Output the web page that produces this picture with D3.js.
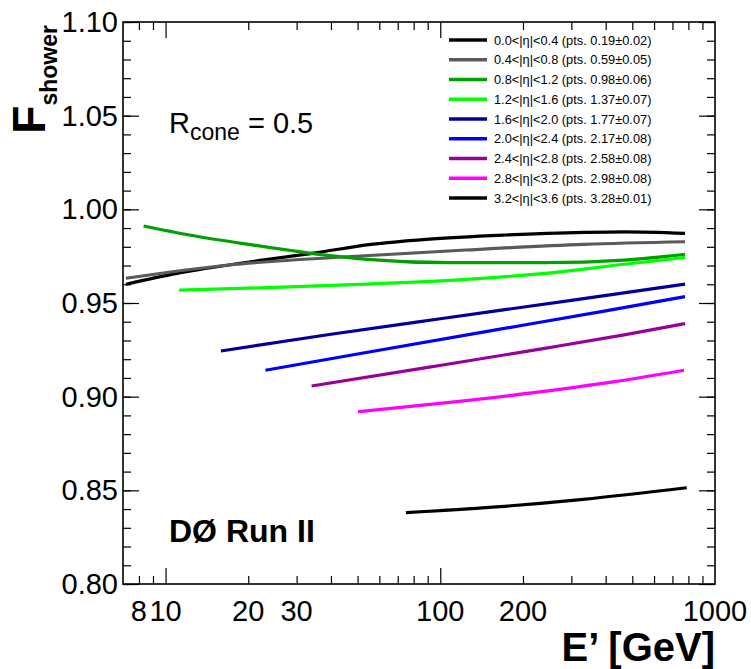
<!DOCTYPE html>
<html>
<head>
<meta charset="utf-8">
<script src="https://cdn.jsdelivr.net/npm/d3@7"></script>
<style>
  body { margin: 0; background: #fff; }
  text { font-family: "Liberation Sans", Arial, sans-serif; }
</style>
</head>
<body>
<svg width="751" height="669"></svg>
<script>
// eta bins and the legend "pts." values
const etaBins = ["0.0<|η|<0.4", "0.4<|η|<0.8", "0.8<|η|<1.2", "1.2<|η|<1.6", "1.6<|η|<2.0",
                 "2.0<|η|<2.4", "2.4<|η|<2.8", "2.8<|η|<3.2", "3.2<|η|<3.6"];
const ptsValues = ["0.19±0.02", "0.59±0.05", "0.98±0.06", "1.37±0.07", "1.77±0.07",
                   "2.17±0.08", "2.58±0.08", "2.98±0.08", "3.28±0.01"];

// curves: E' (GeV) and F_shower
const energy0 = [7.17, 11.0, 18.7, 35.1, 56, 88.8, 172, 334, 467, 778];
const fshower0 = [0.9600, 0.9658, 0.9712, 0.9768, 0.9813, 0.9840, 0.9863, 0.9877, 0.9880, 0.9872];
const energy1 = [7.17, 17, 45.8, 124, 334, 778];
const fshower1 = [0.9632, 0.9703, 0.9747, 0.9783, 0.9813, 0.9827];
const energy2 = [8.32, 12.2, 20.0, 32.9, 54.1, 108, 240, 467, 778];
const fshower2 = [0.9911, 0.9863, 0.9813, 0.9768, 0.9733, 0.9715, 0.9715, 0.9729, 0.9760];
const energy3 = [11.2, 23.6, 54.1, 124, 240, 467, 778];
const fshower3 = [0.9569, 0.9582, 0.9601, 0.9626, 0.9658, 0.9707, 0.9744];
const energy4 = [15.9, 40, 100, 300, 778];
const fshower4 = [0.9244, 0.9333, 0.9416, 0.9514, 0.9601];
const energy5 = [23.1, 50, 150, 400, 778];
const fshower5 = [0.9141, 0.9228, 0.9350, 0.9458, 0.9534];
const energy6 = [34.0, 88.9, 240, 467, 778];
const fshower6 = [0.9057, 0.9155, 0.9258, 0.9330, 0.9390];
const energy7 = [50.2, 93.6, 215, 431, 771];
const fshower7 = [0.8920, 0.8960, 0.9020, 0.9080, 0.9141];
const energy8 = [75, 165, 331, 789];
const fshower8 = [0.8381, 0.8413, 0.8452, 0.8514];

const palette = ["#000000", "#5a5a5a", "#00a000", "#00ff00", "#000099",
                 "#0000ff", "#990099", "#ff00ff", "#000000"];

// axis ticks / labels
const xLabelTicks = [8, 10, 20, 30, 100, 200, 1000];
const xMajorTicks = [10, 100];
const xMinorTicks = [8, 9, 20, 30, 40, 50, 60, 70, 80, 90, 200, 300, 400, 500, 600, 700, 800, 900];
const yMajorTicks = [0.80, 0.85, 0.90, 0.95, 1.00, 1.05, 1.10];
const yMinorTicks = d3.range(80, 111).map(d => d / 100);

const energies = [energy0, energy1, energy2, energy3, energy4, energy5, energy6, energy7, energy8];
const fshowers = [fshower0, fshower1, fshower2, fshower3, fshower4, fshower5, fshower6, fshower7, fshower8];
const series = energies.map((e, i) => e.map((v, j) => ({x: v, y: fshowers[i][j]})));

// frame
const frameL = 123, frameR = 715, frameT = 22, frameB = 584;

const svg = d3.select("svg");

const x = d3.scaleLog().domain([7, 1000]).range([frameL, frameR]);
const y = d3.scaleLinear().domain([0.80, 1.10]).range([frameB, frameT]);

// ticks on all four sides
function tickGroup(axis, tx, ty) {
  const g = svg.append("g").attr("transform", "translate(" + tx + "," + ty + ")").call(axis);
  g.select(".domain").remove();
  g.selectAll("text").remove();
  g.selectAll("line").attr("stroke", "#000").attr("stroke-width", 1.2);
}
tickGroup(d3.axisBottom(x).tickValues(xMajorTicks).tickSize(-16), 0, frameB);
tickGroup(d3.axisBottom(x).tickValues(xMinorTicks).tickSize(-8), 0, frameB);
tickGroup(d3.axisTop(x).tickValues(xMajorTicks).tickSize(-16), 0, frameT);
tickGroup(d3.axisTop(x).tickValues(xMinorTicks).tickSize(-8), 0, frameT);
tickGroup(d3.axisLeft(y).tickValues(yMajorTicks).tickSize(-16), frameL, 0);
tickGroup(d3.axisLeft(y).tickValues(yMinorTicks).tickSize(-8), frameL, 0);
tickGroup(d3.axisRight(y).tickValues(yMajorTicks).tickSize(-16), frameR, 0);
tickGroup(d3.axisRight(y).tickValues(yMinorTicks).tickSize(-8), frameR, 0);

svg.append("rect")
  .attr("x", frameL).attr("y", frameT)
  .attr("width", frameR - frameL).attr("height", frameB - frameT)
  .attr("fill", "none").attr("stroke", "#000").attr("stroke-width", 1.6);

// tick labels
svg.append("g").selectAll("text")
  .data(xLabelTicks)
  .join("text")
  .attr("x", d => x(d))
  .attr("y", 621)
  .attr("text-anchor", "middle")
  .attr("font-size", 29)
  .text(d => d);

svg.append("g").selectAll("text")
  .data(yMajorTicks)
  .join("text")
  .attr("x", 118)
  .attr("y", d => y(d) + 10)
  .attr("text-anchor", "end")
  .attr("font-size", 29)
  .text(d => d3.format(".2f")(d));

// axis titles
svg.append("text")
  .attr("x", 715).attr("y", 661)
  .attr("text-anchor", "end")
  .attr("font-size", 40).attr("font-weight", "bold")
  .text("E’ [GeV]");

const yt = svg.append("text")
  .attr("transform", "translate(45,25) rotate(-90)")
  .attr("text-anchor", "end")
  .attr("font-weight", "bold");
yt.append("tspan").attr("font-size", 46).text("F");
yt.append("tspan").attr("font-size", 23).attr("dy", 12).text("shower");

// curves
const line = d3.line()
  .x(d => x(d.x))
  .y(d => y(d.y))
  .curve(d3.curveMonotoneX);

svg.append("g").selectAll("path")
  .data(series)
  .join("path")
  .attr("d", line)
  .attr("fill", "none")
  .attr("stroke", (d, i) => palette[i])
  .attr("stroke-width", 3.2);

// legend
const legend = svg.append("g").selectAll("g")
  .data(etaBins)
  .join("g")
  .attr("transform", (d, i) => "translate(449," + (40 + i * 19.75) + ")");
legend.append("line")
  .attr("x1", 0).attr("x2", 38)
  .attr("stroke", (d, i) => palette[i])
  .attr("stroke-width", 3.5);
legend.append("text")
  .attr("x", 45).attr("y", 4.5)
  .attr("font-size", 12.8)
  .text((d, i) => d + " (pts. " + ptsValues[i] + ")");

// annotations
const rc = svg.append("text").attr("x", 169).attr("y", 133).attr("font-size", 29);
rc.append("tspan").text("R");
rc.append("tspan").attr("font-size", 23).attr("dy", 7).text("cone");
rc.append("tspan").attr("dy", -7).text(" = 0.5");

svg.append("text")
  .attr("x", 169).attr("y", 542)
  .attr("font-size", 32).attr("font-weight", "bold")
  .text("DØ Run II");
</script>
</body>
</html>
